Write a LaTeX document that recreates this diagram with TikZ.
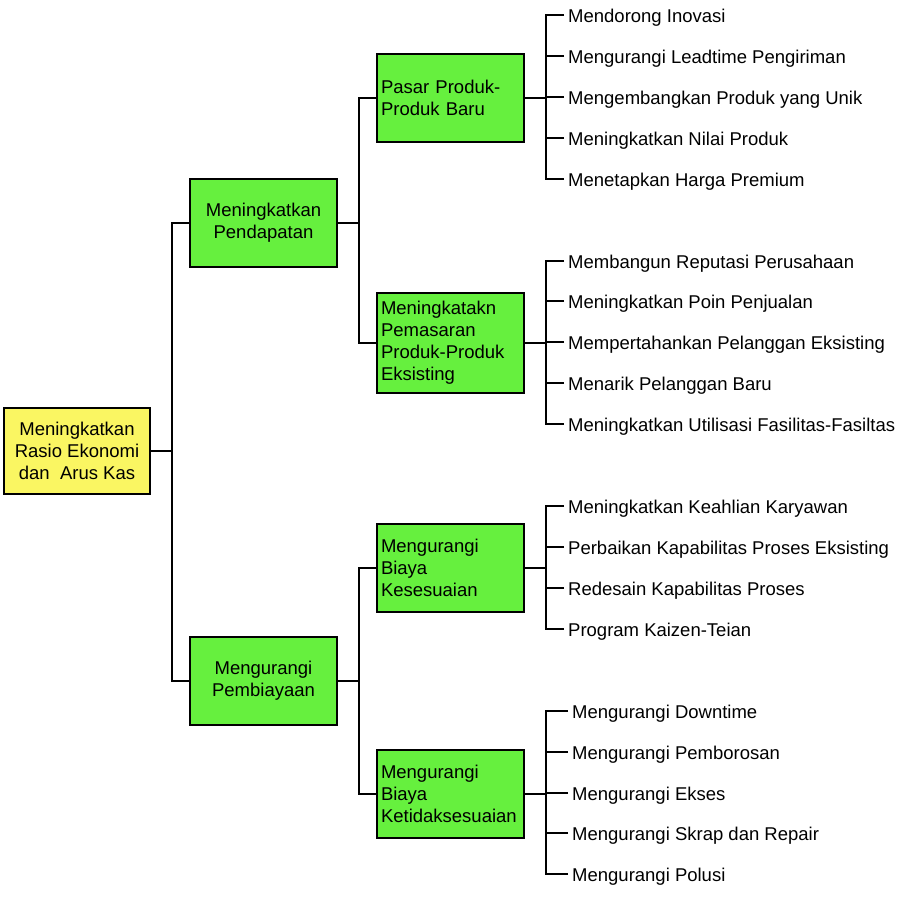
\documentclass[tikz,border=0pt]{standalone}
\usepackage{fontspec}
\setmainfont{Liberation Sans}
\definecolor{boxgreen}{RGB}{102,240,62}
\definecolor{boxyellow}{RGB}{250,246,98}
\begin{document}
\begin{tikzpicture}[x=1pt,y=-1pt,
  every node/.style={font=\fontsize{18.5}{22}\selectfont},
  rootbox/.style={draw=black,line width=2pt,fill=boxyellow,minimum width=146pt,minimum height=86pt,align=center,inner sep=0pt},
  midbox/.style={draw=black,line width=2pt,fill=boxgreen,minimum width=147pt,minimum height=88pt,align=center,inner sep=0pt},
  subbox/.style={draw=black,line width=2pt,fill=boxgreen,minimum width=147pt,minimum height=88pt,text width=139pt,align=left,inner xsep=4pt,inner ysep=0pt},
  leaf/.style={anchor=west,inner xsep=4pt,inner ysep=0pt,text height=14pt,text depth=0pt},
  conn/.style={draw=black,line width=1.6pt},
  busfeed/.style={draw=black,line width=2.6pt}]
\useasboundingbox (0,0) rectangle (900,900);
\fill[white] (0,0) rectangle (900,900);

% boxes
\node[rootbox] (root) at (77,451) {Meningkatkan\\Rasio Ekonomi\\dan\ \ Arus Kas};
\node[midbox] (pend) at (263.5,223) {Meningkatkan\\Pendapatan};
\node[midbox] (pemb) at (263.5,681) {Mengurangi\\Pembiayaan};
\node[subbox] (pasar) at (450.5,98) {Pasar Produk-\\Produk Baru};
\node[subbox,minimum height=100pt] (pemas) at (450.5,343) {Meningkatakn\\Pemasaran\\Produk-Produk\\Eksisting};
\node[subbox] (kes) at (450.5,568) {Mengurangi\\Biaya\\Kesesuaian};
\node[subbox] (tidak) at (450.5,794) {Mengurangi\\Biaya\\Ketidaksesuaian};

% level connectors
\coordinate (j0) at (172,451);
\coordinate (j1) at (359,223);
\coordinate (j2) at (359,681);
\draw[conn] (root.east) -- (j0);
\draw[conn] (pend.west) -| (j0);
\draw[conn] (pemb.west) -| (j0);
\draw[conn] (pend.east) -- (j1);
\draw[conn] (pasar.west) -| (j1);
\draw[conn] (pemas.west) -| (j1);
\draw[conn] (pemb.east) -- (j2);
\draw[conn] (kes.west) -| (j2);
\draw[conn] (tidak.west) -| (j2);

% leaf buses
\coordinate (b1) at (546,98);
\coordinate (b2) at (546,343);
\coordinate (b3) at (546,568);
\coordinate (b4) at (546,794);
\draw[busfeed] (pasar.east) -- (b1);
\draw[busfeed] (pemas.east) -- (b2);
\draw[busfeed] (kes.east) -- (b3);
\draw[busfeed] (tidak.east) -- (b4);

% group 1
\node[leaf] (a1) at (564,15) {Mendorong Inovasi};
\node[leaf] (a2) at (564,56) {Mengurangi Leadtime Pengiriman};
\node[leaf] (a3) at (564,97) {Mengembangkan Produk yang Unik};
\node[leaf] (a4) at (564,138) {Meningkatkan Nilai Produk};
\node[leaf] (a5) at (564,179) {Menetapkan Harga Premium};
\foreach \n in {a1,a2,a3,a4,a5} \draw[conn] (\n.west) -| (b1);

% group 2
\node[leaf] (c1) at (564,261) {Membangun Reputasi Perusahaan};
\node[leaf] (c2) at (564,301) {Meningkatkan Poin Penjualan};
\node[leaf] (c3) at (564,342) {Mempertahankan Pelanggan Eksisting};
\node[leaf] (c4) at (564,383) {Menarik Pelanggan Baru};
\node[leaf] (c5) at (564,424) {Meningkatkan Utilisasi Fasilitas-Fasiltas};
\foreach \n in {c1,c2,c3,c4,c5} \draw[conn] (\n.west) -| (b2);

% group 3
\node[leaf] (d1) at (564,506) {Meningkatkan Keahlian Karyawan};
\node[leaf] (d2) at (564,547) {Perbaikan Kapabilitas Proses Eksisting};
\node[leaf] (d3) at (564,588) {Redesain Kapabilitas Proses};
\node[leaf] (d4) at (564,629) {Program Kaizen-Teian};
\foreach \n in {d1,d2,d3,d4} \draw[conn] (\n.west) -| (b3);

% group 4
\node[leaf] (e1) at (568,711) {Mengurangi Downtime};
\node[leaf] (e2) at (568,752) {Mengurangi Pemborosan};
\node[leaf] (e3) at (568,793) {Mengurangi Ekses};
\node[leaf] (e4) at (568,833) {Mengurangi Skrap dan Repair};
\node[leaf] (e5) at (568,874) {Mengurangi Polusi};
\foreach \n in {e1,e2,e3,e4,e5} \draw[conn] (\n.west) -| (b4);
\end{tikzpicture}
\end{document}
